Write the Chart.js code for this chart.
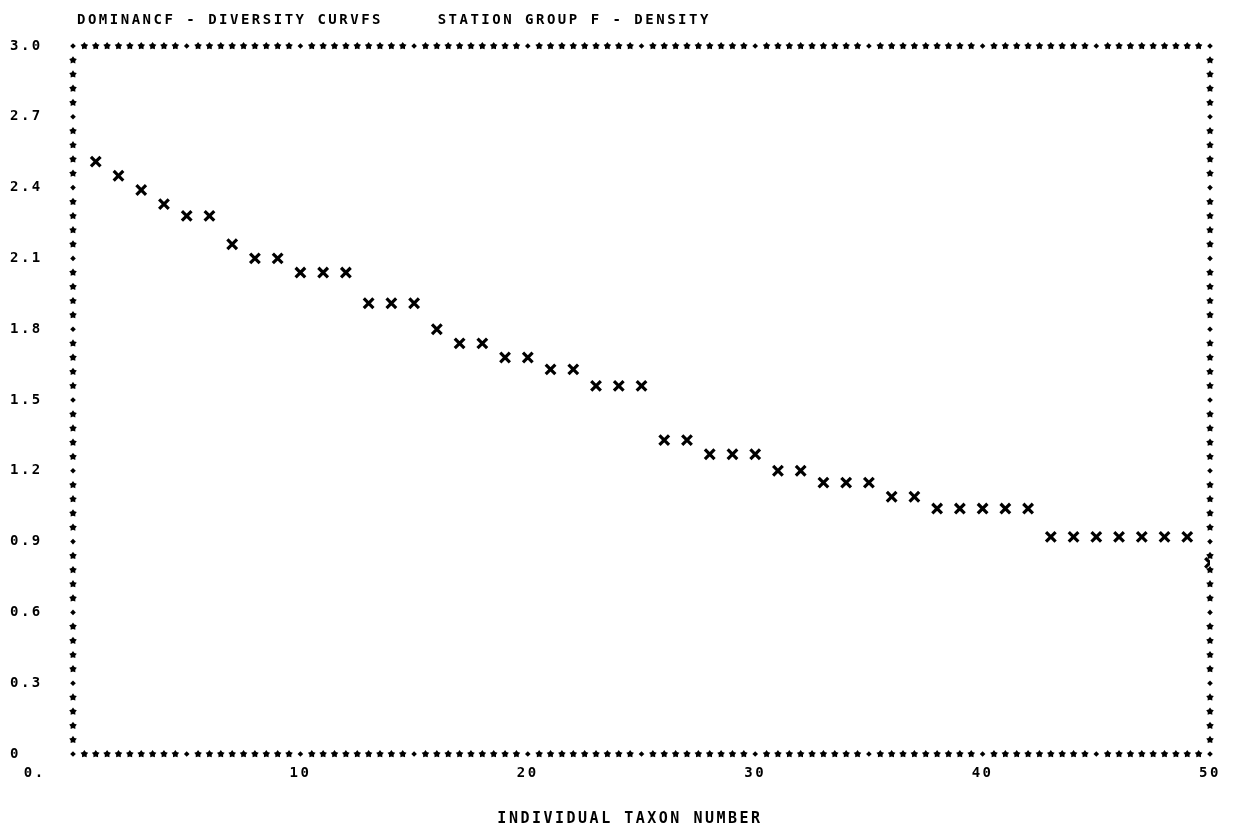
<!DOCTYPE html>
<html>
<head>
<meta charset="utf-8">
<script src="https://cdn.jsdelivr.net/npm/chart.js@4"></script>
<style>
  body { margin: 0; background: #fff; }
  canvas { display: block; }
</style>
</head>
<body>
<canvas id="chart" width="1235" height="834"></canvas>
<script>
// data
const taxonNumbers = [1, 2, 3, 4, 5, 6, 7, 8, 9, 10,
    11, 12, 13, 14, 15, 16, 17, 18, 19, 20,
    21, 22, 23, 24, 25, 26, 27, 28, 29, 30,
    31, 32, 33, 34, 35, 36, 37, 38, 39, 40,
    41, 42, 43, 44, 45, 46, 47, 48, 49, 50];
const densityValues = [2.51, 2.45, 2.39, 2.33, 2.28, 2.28, 2.16, 2.10, 2.10, 2.04,
    2.04, 2.04, 1.91, 1.91, 1.91, 1.80, 1.74, 1.74, 1.68, 1.68,
    1.63, 1.63, 1.56, 1.56, 1.56, 1.33, 1.33, 1.27, 1.27, 1.27,
    1.20, 1.20, 1.15, 1.15, 1.15, 1.09, 1.09, 1.04, 1.04, 1.04,
    1.04, 1.04, 0.92, 0.92, 0.92, 0.92, 0.92, 0.92, 0.92, 0.81];
const yTicks = [0, 0.3, 0.6, 0.9, 1.2, 1.5, 1.8, 2.1, 2.4, 2.7, 3.0];
const xTicks = [0, 10, 20, 30, 40, 50];
const xTickLabels = ['0.       ', '10', '20', '30', '40', '50'];
const titleText = 'DOMINANCF - DIVERSITY CURVFS     STATION GROUP F - DENSITY';
const xAxisTitle = 'INDIVIDUAL TAXON NUMBER  ';

const printFont = '"DejaVu Sans Mono", "Liberation Mono", monospace';

function drawStar(ctx, x, y, r) {
    ctx.beginPath();
    for (let i = 0; i < 10; i++) {
        const rad = (i % 2 === 0) ? r : r * 0.6;
        const a = -Math.PI / 2 + i * Math.PI / 5;
        const px = x + Math.cos(a) * rad;
        const py = y + Math.sin(a) * rad;
        if (i === 0) ctx.moveTo(px, py); else ctx.lineTo(px, py);
    }
    ctx.closePath();
    ctx.fill();
}

function drawPlus(ctx, x, y, r) {
    ctx.beginPath();
    ctx.moveTo(x, y - r);
    ctx.lineTo(x + r, y);
    ctx.lineTo(x, y + r);
    ctx.lineTo(x - r, y);
    ctx.closePath();
    ctx.fill();
}

// line printer frame: '*' every half unit / 0.06, '+' at the tick marks
const printerFrame = {
    id: 'printerFrame',
    beforeUpdate(chart) {
        chart.ctx.letterSpacing = '2.5px';
    },
    beforeDraw(chart) {
        const ctx = chart.ctx;
        ctx.save();
        ctx.fillStyle = '#fff';
        ctx.fillRect(0, 0, chart.width, chart.height);
        ctx.restore();
        ctx.letterSpacing = '2.5px';
    },
    beforeDatasetsDraw(chart) {
        const ctx = chart.ctx;
        const xs = chart.scales.x;
        const ys = chart.scales.y;
        const top = ys.getPixelForValue(3.0);
        const bottom = ys.getPixelForValue(0);
        const left = xs.getPixelForValue(0);
        const right = xs.getPixelForValue(50);
        ctx.save();
        ctx.fillStyle = '#000';
        for (let i = 0; i <= 100; i++) {
            const px = xs.getPixelForValue(i * 0.5);
            const mark = (i % 10 === 0) ? drawPlus : drawStar;
            const r = (i % 10 === 0) ? 2.8 : 4;
            mark(ctx, px, top, r);
            mark(ctx, px, bottom, r);
        }
        for (let j = 1; j < 50; j++) {
            const py = ys.getPixelForValue(j * 0.06);
            const mark = (j % 5 === 0) ? drawPlus : drawStar;
            const r = (j % 5 === 0) ? 2.8 : 4;
            mark(ctx, left, py, r);
            mark(ctx, right, py, r);
        }
        ctx.restore();
    },
    afterDraw(chart) {
        const ctx = chart.ctx;
        ctx.save();
        ctx.letterSpacing = '2.5px';
        ctx.fillStyle = '#000';
        ctx.font = 'bold 14px ' + printFont;
        ctx.textBaseline = 'middle';
        ctx.textAlign = 'left';
        ctx.fillText(titleText, chart.chartArea.left + 4, 20);
        ctx.restore();
    }
};

const ctx = document.getElementById('chart').getContext('2d');
new Chart(ctx, {
    type: 'scatter',
    data: {
        datasets: [{
            label: 'Density',
            data: taxonNumbers.map((n, i) => ({ x: n, y: densityValues[i] })),
            pointStyle: 'crossRot',
            pointRadius: 6.8,
            pointHoverRadius: 6.8,
            borderWidth: 3.2,
            borderColor: '#000',
            backgroundColor: '#000'
        }]
    },
    options: {
        responsive: false,
        animation: false,
        layout: {
            padding: { left: 10, right: 25, top: 46, bottom: 0 }
        },
        plugins: {
            legend: { display: false },
            tooltip: { enabled: false },
            title: { display: false }
        },
        scales: {
            x: {
                type: 'linear',
                min: 0,
                max: 50,
                grid: { display: false },
                border: { display: false },
                afterBuildTicks: scale => {
                    scale.ticks = xTicks.map(v => ({ value: v }));
                },
                afterFit: scale => { scale.height = 80; },
                ticks: {
                    autoSkip: false,
                    maxRotation: 0,
                    padding: 3,
                    color: '#000',
                    font: { family: printFont, size: 14, weight: 'bold' },
                    callback: value => xTickLabels[xTicks.indexOf(value)]
                },
                title: {
                    display: true,
                    text: xAxisTitle,
                    color: '#000',
                    font: { family: printFont, size: 15, weight: 'bold' },
                    padding: { top: 0, bottom: 6 }
                }
            },
            y: {
                type: 'linear',
                min: 0,
                max: 3.0,
                grid: { display: false },
                border: { display: false },
                afterBuildTicks: scale => {
                    scale.ticks = yTicks.map(v => ({ value: v }));
                },
                afterFit: scale => { scale.width = 63; },
                ticks: {
                    crossAlign: 'far',
                    padding: 4,
                    color: '#000',
                    font: { family: printFont, size: 14, weight: 'bold' },
                    callback: value => value === 0 ? '0' : value.toFixed(1)
                }
            }
        }
    },
    plugins: [printerFrame]
});
</script>
</body>
</html>
